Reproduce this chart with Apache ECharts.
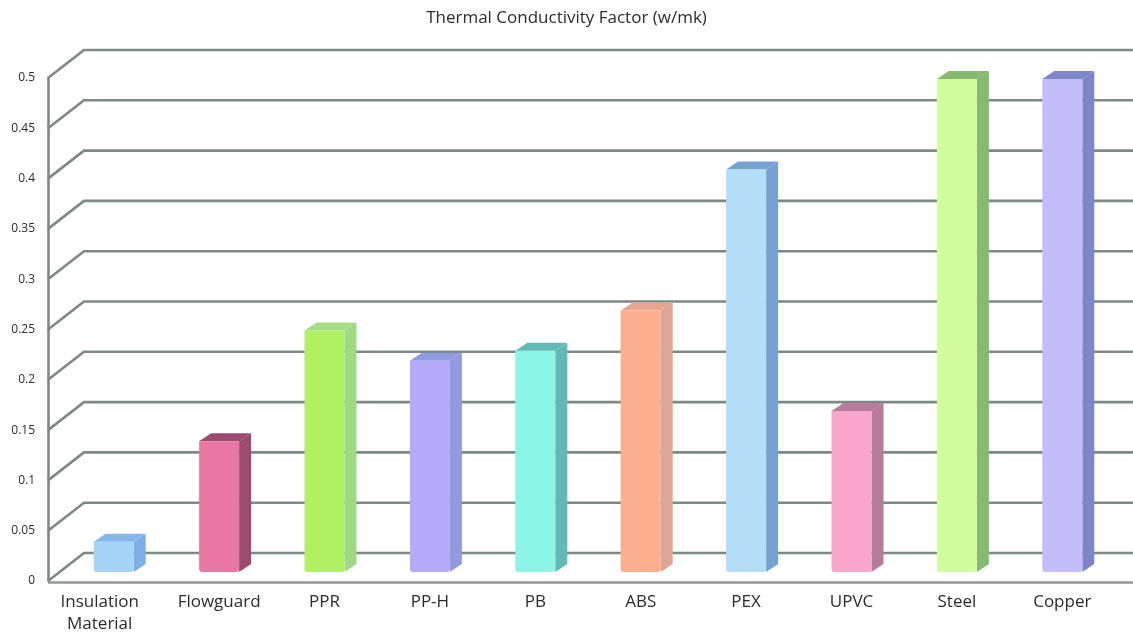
<!DOCTYPE html>
<html>
<head>
<meta charset="utf-8">
<title>Thermal Conductivity Factor</title>
<script src="https://cdn.jsdelivr.net/npm/echarts@6/dist/echarts.min.js"></script>
<style>
  html, body { margin: 0; padding: 0; background: #ffffff; }
  #chart { width: 1133px; height: 635px; }
</style>
</head>
<body>
<div id="chart"></div>
<script>
// Materials and their thermal conductivity (w/mk)
const categories = ['Insulation\nMaterial', 'Flowguard', 'PPR', 'PP-H', 'PB', 'ABS', 'PEX', 'UPVC', 'Steel', 'Copper'];
const conductivity = [0.03, 0.13, 0.24, 0.21, 0.22, 0.26, 0.40, 0.16, 0.49, 0.49];
const yTicks = [0, 0.05, 0.1, 0.15, 0.2, 0.25, 0.3, 0.35, 0.4, 0.45, 0.5];

// Face colours of each block: front, right side, top
const frontColors = ['#a6d3f8', '#e877a3', '#b0f062', '#b4abf8', '#8cf6e6', '#fbaf8f', '#b4ddf8', '#f9a5cc', '#d2fc9e', '#c3bdfc'];
const sideColors  = ['#7eaee6', '#9c4b6e', '#9fd988', '#8f9ae0', '#62b8b4', '#dea596', '#77a1d0', '#b67b9c', '#88b970', '#7d87c8'];
const topColors   = ['#86b5ea', '#9c4b6e', '#a4de84', '#8f9ae0', '#64bab4', '#e6a68f', '#77a1d0', '#b67b9c', '#88b970', '#7d87c8'];

// Pseudo-3D geometry
const WALL_DX = 36, WALL_DY = 28;   // offset of the back wall
const BAR_HALF = 20;                // half width of a block's front face
const BAR_DX = 12, BAR_DY = 8;      // block depth
const BAR_LIFT = 9;                 // blocks stand a little behind the front edge
const LEFT_EDGE = 48;
const lineColor = '#7e8986';

const chart = echarts.init(document.getElementById('chart'));

function wallLines(params, api) {
  const v = api.value(0);
  const y = api.coord([0, v])[1];
  const W = api.getWidth();
  const children = [{
    type: 'polyline',
    shape: { points: [[LEFT_EDGE, y], [LEFT_EDGE + WALL_DX, y - WALL_DY], [W, y - WALL_DY]] },
    style: { stroke: lineColor, lineWidth: 2.6, fill: null }
  }];
  if (v === 0) {
    children.push({
      type: 'line',
      shape: { x1: LEFT_EDGE, y1: y + 1.5, x2: W, y2: y + 1.5 },
      style: { stroke: '#8f9896', lineWidth: 2.6 }
    });
  }
  return { type: 'group', children: children };
}

function block(params, api) {
  const i = params.dataIndex;
  const top = api.coord([api.value(0), api.value(1)]);
  const base = api.coord([api.value(0), 0]);
  const cx = top[0];
  const yt = top[1] - BAR_LIFT;
  const yb = base[1] - BAR_LIFT;
  const xl = cx - BAR_HALF, xr = cx + BAR_HALF;
  return {
    type: 'group',
    children: [
      {
        type: 'polygon',
        shape: { points: [[xr, yt], [xr + BAR_DX, yt - BAR_DY], [xr + BAR_DX, yb - BAR_DY], [xr, yb]] },
        style: { fill: sideColors[i] }
      },
      {
        type: 'polygon',
        shape: { points: [[xl, yt], [xl + BAR_DX, yt - BAR_DY], [xr + BAR_DX, yt - BAR_DY], [xr, yt]] },
        style: { fill: topColors[i] }
      },
      {
        type: 'rect',
        shape: { x: xl, y: yt, width: xr - xl, height: yb - yt, r: [0, 0, 3, 3] },
        style: { fill: frontColors[i] }
      }
    ]
  };
}

const option = {
  backgroundColor: '#ffffff',
  animation: false,
  title: {
    text: 'Thermal Conductivity Factor (w/mk)',
    left: 'center',
    top: 5,
    textStyle: { fontFamily: 'Open Sans', fontSize: 17, fontWeight: 'normal', color: '#2b2b2b' }
  },
  grid: { left: 61, right: 18, top: 78, bottom: 52 },
  xAxis: {
    type: 'category',
    data: categories.map(function (c, i) {
      return i === 0 ? { value: c, textStyle: { padding: [0, 28, 0, 0] } } : c;
    }),
    axisLine: { show: false },
    axisTick: { show: false },
    axisLabel: {
      interval: 0,
      margin: 10,
      fontFamily: 'Open Sans',
      fontSize: 17,
      lineHeight: 22,
      color: '#2b2b2b'
    },
    splitLine: { show: false }
  },
  yAxis: {
    type: 'value',
    min: 0,
    max: 0.5,
    interval: 0.05,
    offset: 13,
    axisLine: { show: true, lineStyle: { color: lineColor, width: 2.6 } },
    axisTick: { show: false },
    axisLabel: { margin: 13, fontFamily: 'Open Sans', fontSize: 12, color: '#2b2b2b' },
    splitLine: { show: false }
  },
  series: [
    {
      type: 'custom',
      z: 1,
      silent: true,
      renderItem: wallLines,
      data: yTicks.map(function (v) { return [v]; }),
      encode: { y: 0 },
      clip: false
    },
    {
      type: 'custom',
      z: 2,
      renderItem: block,
      data: conductivity.map(function (v, i) { return [i, v]; }),
      encode: { x: 0, y: 1 },
      clip: false
    }
  ]
};

chart.setOption(option);
</script>
</body>
</html>
